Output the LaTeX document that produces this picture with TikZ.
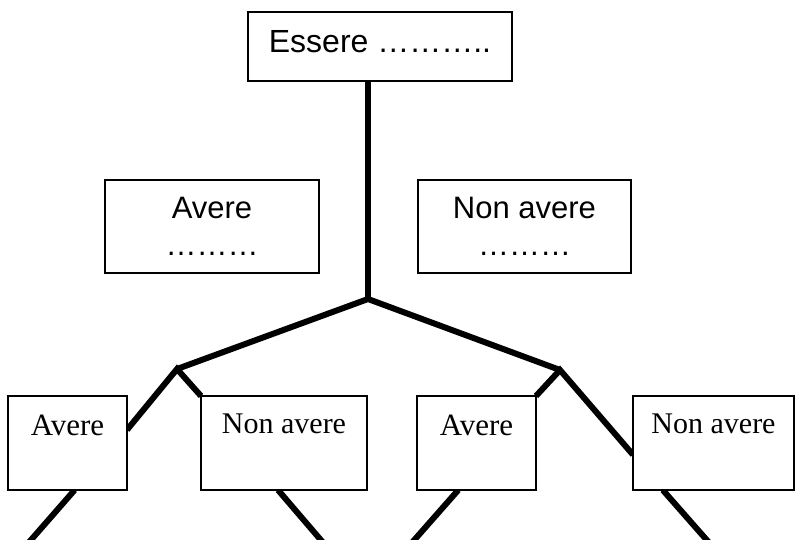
\documentclass[tikz,border=0pt]{standalone}
\usepackage{fontspec}
\setmainfont{Liberation Serif}
\newfontfamily\arialf{Liberation Sans}
\usetikzlibrary{calc,backgrounds}
\begin{document}
\begin{tikzpicture}[x=1pt,y=-1pt,
  boxbase/.style={draw=black,line width=2pt,fill=white,inner sep=0pt,outer sep=0pt},
  topbox/.style={boxbase,font=\arialf\fontsize{32}{38}\selectfont,minimum width=264pt,minimum height=69pt,text height=23pt,text depth=12pt},
  midbox/.style={boxbase,font=\arialf\fontsize{31}{37}\selectfont,align=center,minimum height=93pt},
  abox/.style={boxbase,font=\fontsize{31}{37}\selectfont,minimum width=119pt,minimum height=94pt,text height=21pt,text depth=37pt},
  nbox/.style={boxbase,font=\fontsize{30}{36}\selectfont,minimum height=94pt,text height=21pt,text depth=41pt},
  branch/.style={line width=6pt,draw=black}
]
\useasboundingbox (0,0) rectangle (795,539);
\clip (0,0) rectangle (795,539);

\node[topbox] (top) at (380,46.5) {Essere ………..};
\node[midbox,minimum width=214pt] (av) at (212,226.5) {Avere\\………};
\node[midbox,minimum width=213pt] (nav) at (524.5,226.5) {Non avere\\………};
\node[abox] (a1) at (67.5,443) {Avere};
\node[nbox,minimum width=166pt] (n1) at (284,443) {Non avere};
\node[abox] (a2) at (476.5,443) {Avere};
\node[nbox,minimum width=161pt] (n2) at (713.5,443) {Non avere};

\coordinate (J) at (368,299);
\coordinate (L) at (177,369);
\coordinate (R) at (560,370);
\coordinate (e1) at (25.7,546);
\coordinate (e2) at (326,546);
\coordinate (e3) at (409,546);
\coordinate (e4) at (712,546);

\begin{scope}[on background layer]
\draw[branch] (J |- top.south) -- (J);
\draw[branch] (L) -- (J) -- (R);
\draw[branch] ($(a1.north east)!0.36!(a1.south east)$) -- (L) -- (n1.north west);
\draw[branch] (a2.north east) -- (R) -- ($(n2.north west)!0.625!(n2.south west)$);
\draw[branch] ($(a1.south west)!0.56!(a1.south east)$) -- (e1);
\draw[branch] ($(n1.south west)!0.464!(n1.south east)$) -- (e2);
\draw[branch] ($(a2.south west)!0.347!(a2.south east)$) -- (e3);
\draw[branch] ($(n2.south west)!0.185!(n2.south east)$) -- (e4);
\end{scope}
\end{tikzpicture}
\end{document}
